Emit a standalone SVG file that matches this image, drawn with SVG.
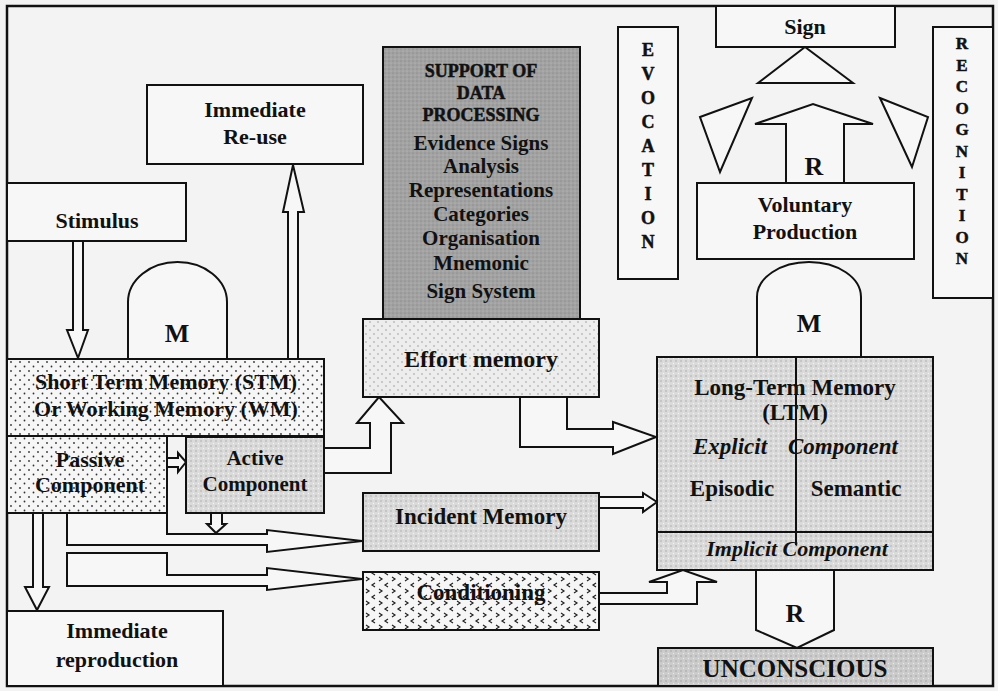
<svg xmlns="http://www.w3.org/2000/svg" width="998" height="691" viewBox="0 0 998 691">
<defs>
<pattern id="dots" width="9" height="9" patternUnits="userSpaceOnUse">
<rect width="9" height="9" fill="#f6f6f6"/>
<circle cx="2" cy="2" r="0.9" fill="#333"/>
<circle cx="6.5" cy="6.5" r="0.9" fill="#333"/>
</pattern>
<pattern id="fdots" width="8" height="8" patternUnits="userSpaceOnUse">
<rect width="8" height="8" fill="#ededed"/>
<circle cx="2" cy="2" r="0.7" fill="#888"/>
<circle cx="6" cy="6" r="0.7" fill="#888"/>
</pattern>
<pattern id="lgray" width="5" height="5" patternUnits="userSpaceOnUse">
<rect width="5" height="5" fill="#dadada"/>
<circle cx="1" cy="1" r="0.7" fill="#a0a0a0"/>
<circle cx="3.5" cy="3.5" r="0.7" fill="#f4f4f4"/>
</pattern>
<pattern id="mgray" width="5" height="5" patternUnits="userSpaceOnUse">
<rect width="5" height="5" fill="#cbcbcb"/>
<circle cx="1" cy="1" r="0.7" fill="#999"/>
<circle cx="3.5" cy="3.5" r="0.7" fill="#e8e8e8"/>
</pattern>
<pattern id="dgray" width="4" height="4" patternUnits="userSpaceOnUse">
<rect width="4" height="4" fill="#a2a2a2"/>
<circle cx="1" cy="1" r="0.6" fill="#7c7c7c"/>
<circle cx="3" cy="3" r="0.6" fill="#c0c0c0"/>
</pattern>
<pattern id="chev" width="13" height="12" patternUnits="userSpaceOnUse">
<rect width="13" height="12" fill="#f6f6f6"/>
<polyline points="2,1 5,3 2,5" fill="none" stroke="#222" stroke-width="1.2"/>
<polyline points="11,7 8,9 11,11" fill="none" stroke="#222" stroke-width="1.2"/>
</pattern>
<style>
.t{font-family:"Liberation Serif","Times New Roman",serif;font-weight:bold;font-size:22px;text-anchor:middle;fill:#111}
.s{font-size:18px;stroke:#111;stroke-width:0.5}
.r{font-size:17px;stroke:#111;stroke-width:0.5}
.i{font-style:italic}
.big{font-size:26px}
.box{stroke:#111;stroke-width:2;fill:#f7f7f7}
.ar{stroke:#111;stroke-width:2;fill:#f7f7f7;stroke-linejoin:miter}
</style>
</defs>
<rect width="998" height="691" fill="#f3f3f3"/>

<g id="connectors">
<path class="ar" d="M73,241 H83 V330 H88 L78,358 L67,330 H73 Z"/>
<path class="ar" d="M288,358 V212 H283 L293,165 L304,212 H298 V358"/>
<path class="ar" d="M167,458 H178 V453 L186,462 L178,472 V467 H167"/>
<path class="ar" d="M211,513 V524 H207 L216,533 L226,524 H222 V513"/>
<path class="ar" d="M167,513 V534 H267 V530 L362,541 L267,552 V545 H67 V513"/>
<path class="ar" d="M67,553 H167 V575 H267 V568 L362,579 L267,590 V586 H67 Z"/>
<path class="ar" d="M33,513 V587 H25 L37,610 L49,587 H43 V513"/>
<path class="ar" d="M324,448 H370 V423 H357 L379,397 L403,423 H391 V473 H324"/>
<path class="ar" d="M520,397 V447 H613 V454 L656,437 L613,422 V429 H567 V397"/>
<path class="ar" d="M599,497 H643 V493 L657,502 L643,512 V508 H599"/>
<path class="ar" d="M599,593 H667 V582 H649 L683,570 L717,582 H697 V604 H599"/>
<g id="m-left">
<path class="ar" d="M128,359 V302 A49.5,40 0 0 1 227,302 V359"/>
<text class="t big" x="177" y="342">M</text>
</g>
<g id="m-right">
<path class="ar" d="M757,357 V297 A52,35 0 0 1 861,297 V357"/>
<text class="t big" x="809" y="332">M</text>
</g>
<g id="r-up">
<path class="ar" d="M786,183 V124 H755 L813,104 L873,124 H844 V183"/>
<text class="t big" x="814" y="175">R</text>
</g>
<g id="r-down">
<path class="ar" d="M756,570 V630 L797,648 L834,630 V570"/>
<text class="t big" x="795" y="622">R</text>
</g>
<polygon class="ar" points="805,47 758,83 853,83"/>
<polygon class="ar" points="700,117 752,98 720,172"/>
<polygon class="ar" points="880,98 928,117 912,167"/>
</g>

<rect x="7" y="6" width="986" height="680" fill="none" stroke="#111" stroke-width="2.5"/>

<g id="immediate-reuse">
<rect class="box" x="147" y="85" width="216" height="79"/>
<text class="t" x="255" y="117">Immediate</text>
<text class="t" x="255" y="144">Re-use</text>
</g>
<g id="stimulus">
<rect class="box" x="7" y="183" width="179" height="58"/>
<text class="t" x="97" y="228">Stimulus</text>
</g>
<g id="support">
<rect class="box" x="383" y="47" width="197" height="272" style="fill:url(#dgray)"/>
<text class="t s" x="481" y="77">SUPPORT OF</text>
<text class="t s" x="481" y="99">DATA</text>
<text class="t s" x="481" y="121">PROCESSING</text>
<text class="t" x="481" y="150" style="font-size:21px">Evidence Signs</text>
<text class="t" x="481" y="173" style="font-size:21px">Analysis</text>
<text class="t" x="481" y="197" style="font-size:21px">Representations</text>
<text class="t" x="481" y="221" style="font-size:21px">Categories</text>
<text class="t" x="481" y="245" style="font-size:21px">Organisation</text>
<text class="t" x="481" y="270" style="font-size:21px">Mnemonic</text>
<text class="t" x="481" y="298" style="font-size:21px">Sign System</text>
</g>
<g id="evocation">
<rect class="box" x="618" y="27" width="60" height="252"/>
<text class="t s" x="648" y="56">E</text>
<text class="t s" x="648" y="80">V</text>
<text class="t s" x="648" y="104">O</text>
<text class="t s" x="648" y="128">C</text>
<text class="t s" x="648" y="152">A</text>
<text class="t s" x="648" y="176">T</text>
<text class="t s" x="648" y="200">I</text>
<text class="t s" x="648" y="224">O</text>
<text class="t s" x="648" y="248">N</text>
</g>
<g id="sign">
<rect class="box" x="716" y="6" width="179" height="41"/>
<text class="t" x="805" y="34">Sign</text>
</g>
<g id="recognition">
<rect class="box" x="933" y="27" width="60" height="271"/>
<text class="t r" x="962" y="49">R</text>
<text class="t r" x="962" y="70.5">E</text>
<text class="t r" x="962" y="92">C</text>
<text class="t r" x="962" y="113.5">O</text>
<text class="t r" x="962" y="135">G</text>
<text class="t r" x="962" y="156.5">N</text>
<text class="t r" x="962" y="178">I</text>
<text class="t r" x="962" y="199.5">T</text>
<text class="t r" x="962" y="221">I</text>
<text class="t r" x="962" y="242.5">O</text>
<text class="t r" x="962" y="264">N</text>
</g>
<g id="voluntary-production">
<rect class="box" x="697" y="183" width="217" height="76"/>
<text class="t" x="805" y="212">Voluntary</text>
<text class="t" x="805" y="239">Production</text>
</g>
<g id="stm">
<rect class="box" x="7" y="359" width="317" height="77" style="fill:url(#dots)"/>
<text class="t" x="166" y="389">Short Term Memory (STM)</text>
<text class="t" x="166" y="416">Or Working Memory (WM)</text>
</g>
<g id="passive">
<rect class="box" x="7" y="436" width="160" height="77" style="fill:url(#dots)"/>
<text class="t" x="90" y="467">Passive</text>
<text class="t" x="90" y="492">Component</text>
</g>
<g id="active">
<rect class="box" x="186" y="437" width="138" height="76" style="fill:url(#lgray)"/>
<text class="t" x="255" y="465" style="font-size:21px">Active</text>
<text class="t" x="255" y="491" style="font-size:21px">Component</text>
</g>
<g id="effort-memory">
<rect class="box" x="363" y="319" width="236" height="78" style="fill:url(#fdots)"/>
<text class="t" x="481" y="367" style="font-size:24px">Effort memory</text>
</g>
<g id="incident-memory">
<rect class="box" x="363" y="493" width="236" height="58" style="fill:url(#lgray)"/>
<text class="t" x="481" y="524" style="font-size:23px">Incident Memory</text>
</g>
<g id="conditioning">
<rect class="box" x="363" y="572" width="236" height="58" style="fill:url(#chev)"/>
<text class="t" x="481" y="600" style="font-size:23px">Conditioning</text>
</g>
<g id="ltm">
<rect class="box" x="657" y="357" width="276" height="213" style="fill:url(#lgray)"/>
<line x1="657" y1="532" x2="933" y2="532" stroke="#111" stroke-width="2"/>
<line x1="796" y1="357" x2="796" y2="545" stroke="#111" stroke-width="2"/>
<text class="t" x="795" y="395" style="font-size:23px">Long-Term Memory</text>
<text class="t" x="795" y="420" style="font-size:23px">(LTM)</text>
<text class="t i" x="693" y="454" style="text-anchor:start;font-size:23px">Explicit</text>
<text class="t i" x="788" y="454" style="text-anchor:start;font-size:23px">Component</text>
<text class="t" x="732" y="496" style="font-size:23px">Episodic</text>
<text class="t" x="856" y="496" style="font-size:23px">Semantic</text>
<text class="t i" x="797" y="556">Implicit Component</text>
</g>
<g id="unconscious">
<rect class="box" x="658" y="648" width="275" height="38" style="fill:url(#mgray)"/>
<text class="t" x="795" y="677" style="font-size:25px">UNCONSCIOUS</text>
</g>
<g id="immediate-reproduction">
<rect class="box" x="7" y="611" width="216" height="75"/>
<text class="t" x="117" y="638">Immediate</text>
<text class="t" x="117" y="667">reproduction</text>
</g>
</svg>
